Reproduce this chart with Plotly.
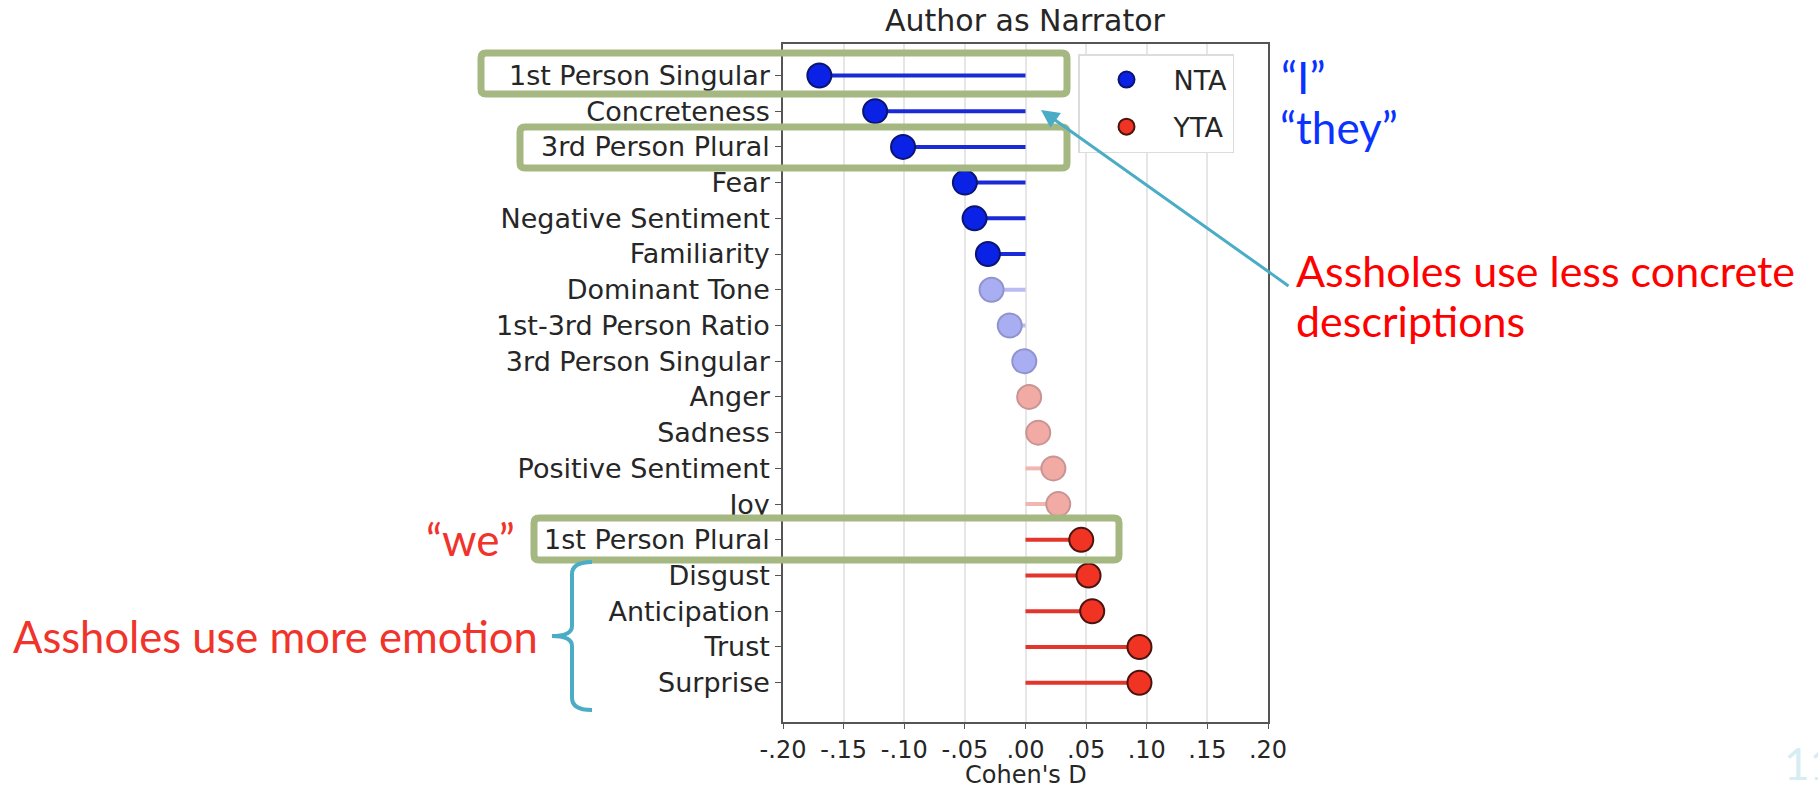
import plotly.graph_objects as go

# ---------------- data ----------------
categories = ["1st Person Singular", "Concreteness", "3rd Person Plural", "Fear",
              "Negative Sentiment", "Familiarity", "Dominant Tone", "1st-3rd Person Ratio",
              "3rd Person Singular", "Anger", "Sadness", "Positive Sentiment", "Joy",
              "1st Person Plural", "Disgust", "Anticipation", "Trust", "Surprise"]
cohens_d = [-0.170, -0.124, -0.101, -0.050, -0.042, -0.031, -0.028, -0.013,
            -0.001, 0.003, 0.0105, 0.023, 0.027, 0.046, 0.052, 0.055, 0.094, 0.094]
significant = [1, 1, 1, 1, 1, 1, 0, 0, 0, 0, 0, 0, 0, 1, 1, 1, 1, 1]
x_tickvals = [-0.20, -0.15, -0.10, -0.05, 0.00, 0.05, 0.10, 0.15, 0.20]
x_ticktext = ["-.20", "-.15", "-.10", "-.05", ".00", ".05", ".10", ".15", ".20"]

# ---------------- styling ----------------
W, H = 1818, 788
PL, PR, PT, PB = 783, 1268, 44, 722   # plot area in pixels
def px(x): return (x - PL) / (PR - PL)
def py(y): return (PB - y) / (PB - PT)

BLUE_LINE, BLUE_FILL, BLUE_EDGE = "#1a2ad6", "#0a22e6", "#0b1470"
LBLUE_LINE, LBLUE_FILL, LBLUE_EDGE = "#b9bcee", "#a9aef2", "#9094cc"
RED_LINE, RED_FILL, RED_EDGE = "#e2352b", "#f03322", "#4a1410"
LRED_LINE, LRED_FILL, LRED_EDGE = "#f2b6b1", "#f2aaa5", "#c89494"
TICKFONT = "DejaVu Sans"
OFFICE = "Lato"

groups = [
    ("neg_sig", lambda v, s: v < 0 and s, BLUE_LINE, BLUE_FILL, BLUE_EDGE, "NTA"),
    ("neg_ns", lambda v, s: v < 0 and not s, LBLUE_LINE, LBLUE_FILL, LBLUE_EDGE, None),
    ("pos_ns", lambda v, s: v >= 0 and not s, LRED_LINE, LRED_FILL, LRED_EDGE, None),
    ("pos_sig", lambda v, s: v >= 0 and s, RED_LINE, RED_FILL, RED_EDGE, "YTA"),
]

fig = go.Figure()

# stems
for key, cond, lc, fc, ec, name in groups:
    xs, ys = [], []
    for c, v, s in zip(categories, cohens_d, significant):
        if cond(v, s):
            xs += [0, v, None]
            ys += [c, c, None]
    fig.add_trace(go.Scatter(x=xs, y=ys, mode="lines", line=dict(color=lc, width=4),
                             showlegend=False, hoverinfo="skip"))

# dots
for key, cond, lc, fc, ec, name in groups:
    xs = [v for c, v, s in zip(categories, cohens_d, significant) if cond(v, s)]
    ys = [c for c, v, s in zip(categories, cohens_d, significant) if cond(v, s)]
    fig.add_trace(go.Scatter(x=xs, y=ys, mode="markers",
                             marker=dict(size=24, color=fc, line=dict(color=ec, width=2)),
                             name=name or key, showlegend=name is not None,
                             legendgroup=key))

# ---------------- shapes ----------------
def rounded_rect(x0, y0, x1, y1, r):
    pts = (f"M {px(x0 + r)},{py(y0)} L {px(x1 - r)},{py(y0)} "
           f"Q {px(x1)},{py(y0)} {px(x1)},{py(y0 + r)} L {px(x1)},{py(y1 - r)} "
           f"Q {px(x1)},{py(y1)} {px(x1 - r)},{py(y1)} L {px(x0 + r)},{py(y1)} "
           f"Q {px(x0)},{py(y1)} {px(x0)},{py(y1 - r)} L {px(x0)},{py(y0 + r)} "
           f"Q {px(x0)},{py(y0)} {px(x0 + r)},{py(y0)} Z")
    return pts

GREEN = "#a5b881"
shapes = []
for (x0, y0, x1, y1) in [(481, 53, 1067, 94), (520, 127, 1067, 168), (534, 518, 1119, 560)]:
    shapes.append(dict(type="path", xref="paper", yref="paper",
                       path=rounded_rect(x0, y0, x1, y1, 5),
                       line=dict(color=GREEN, width=7), layer="above"))

TEAL = "#4bacc6"
bracket = [(592, 562), (572, 562), (572, 574), (572, 626), (572, 636), (552, 636),
           (572, 636), (572, 646), (572, 698), (572, 710), (592, 710)]
b = [(px(x), py(y)) for x, y in bracket]
bpath = (f"M {b[0][0]},{b[0][1]} Q {b[1][0]},{b[1][1]} {b[2][0]},{b[2][1]} "
         f"L {b[3][0]},{b[3][1]} Q {b[4][0]},{b[4][1]} {b[5][0]},{b[5][1]} "
         f"Q {b[6][0]},{b[6][1]} {b[7][0]},{b[7][1]} L {b[8][0]},{b[8][1]} "
         f"Q {b[9][0]},{b[9][1]} {b[10][0]},{b[10][1]}")
shapes.append(dict(type="path", xref="paper", yref="paper", path=bpath,
                   line=dict(color=TEAL, width=4)))

# ---------------- annotations ----------------
def txt(text, x, y, size, color, xanchor="left", family=OFFICE):
    return dict(text=text, xref="paper", yref="paper", x=px(x), y=py(y),
                xanchor=xanchor, yanchor="middle", showarrow=False,
                font=dict(family=family, size=size, color=color))

ann = []
ann.append(txt("Author as Narrator", (PL + PR) / 2, 21, 30, "#262626", "center", TICKFONT))
ann.append(txt("Cohen's D", (PL + PR) / 2, 775, 24, "#262626", "center", TICKFONT))
ann.append(dict(text="", xref="paper", yref="paper", x=px(1041), y=py(110),
                ax=249, ay=177, showarrow=True, arrowhead=2, arrowsize=1.2,
                arrowwidth=3, arrowcolor=TEAL))
ann.append(txt("\u201cI\u201d", 1279, 77, 44, "#0b33ff"))
ann.append(txt("\u201cthey\u201d", 1278, 127, 44, "#0b33ff"))
ann.append(txt("Assholes use less concrete", 1294, 270, 43, "#ff0000"))
ann.append(txt("descriptions", 1294, 320, 43, "#ff0000"))
ann.append(txt("\u201cwe\u201d", 517, 539, 44, "#f0332b", "right"))
ann.append(txt("Assholes use more emotion", 11, 636, 43.5, "#f0332b"))
ann.append(txt("11", 1782, 763, 44, "#d6edf3"))

fig.update_layout(
    width=W, height=H,
    margin=dict(l=PL, r=W - PR, t=PT, b=H - PB, autoexpand=False),
    paper_bgcolor="white", plot_bgcolor="white",
    shapes=shapes, annotations=ann,
    legend=dict(x=px(1078), y=py(54), xanchor="left", yanchor="top",
                bgcolor="white", bordercolor="#dcdcdc", borderwidth=1.5,
                font=dict(family=TICKFONT, size=27, color="#262626"),
                itemwidth=84, tracegroupgap=9, itemsizing="trace"),
    xaxis=dict(range=[-0.2, 0.2], tickvals=x_tickvals, ticktext=x_ticktext,
               showgrid=True, gridcolor="#e6e6e6", gridwidth=1.5, zeroline=False,
               showline=True, mirror=True, linecolor="#555555", linewidth=1.5,
               ticks="outside", ticklen=5, tickcolor="#555555",
               tickfont=dict(family=TICKFONT, size=24, color="#262626")),
    yaxis=dict(type="category", categoryorder="array", categoryarray=categories,
               range=[18.1, -0.88], showgrid=False, zeroline=False,
               showline=True, mirror=True, linecolor="#555555", linewidth=1.5,
               ticks="outside", ticklen=6, tickcolor="#555555",
               tickfont=dict(family=TICKFONT, size=27, color="#262626")),
    hovermode=False,
)

fig.write_html("out.html", config={"displayModeBar": False},
               post_script="document.body.style.margin='0';document.body.style.overflow='hidden';")
